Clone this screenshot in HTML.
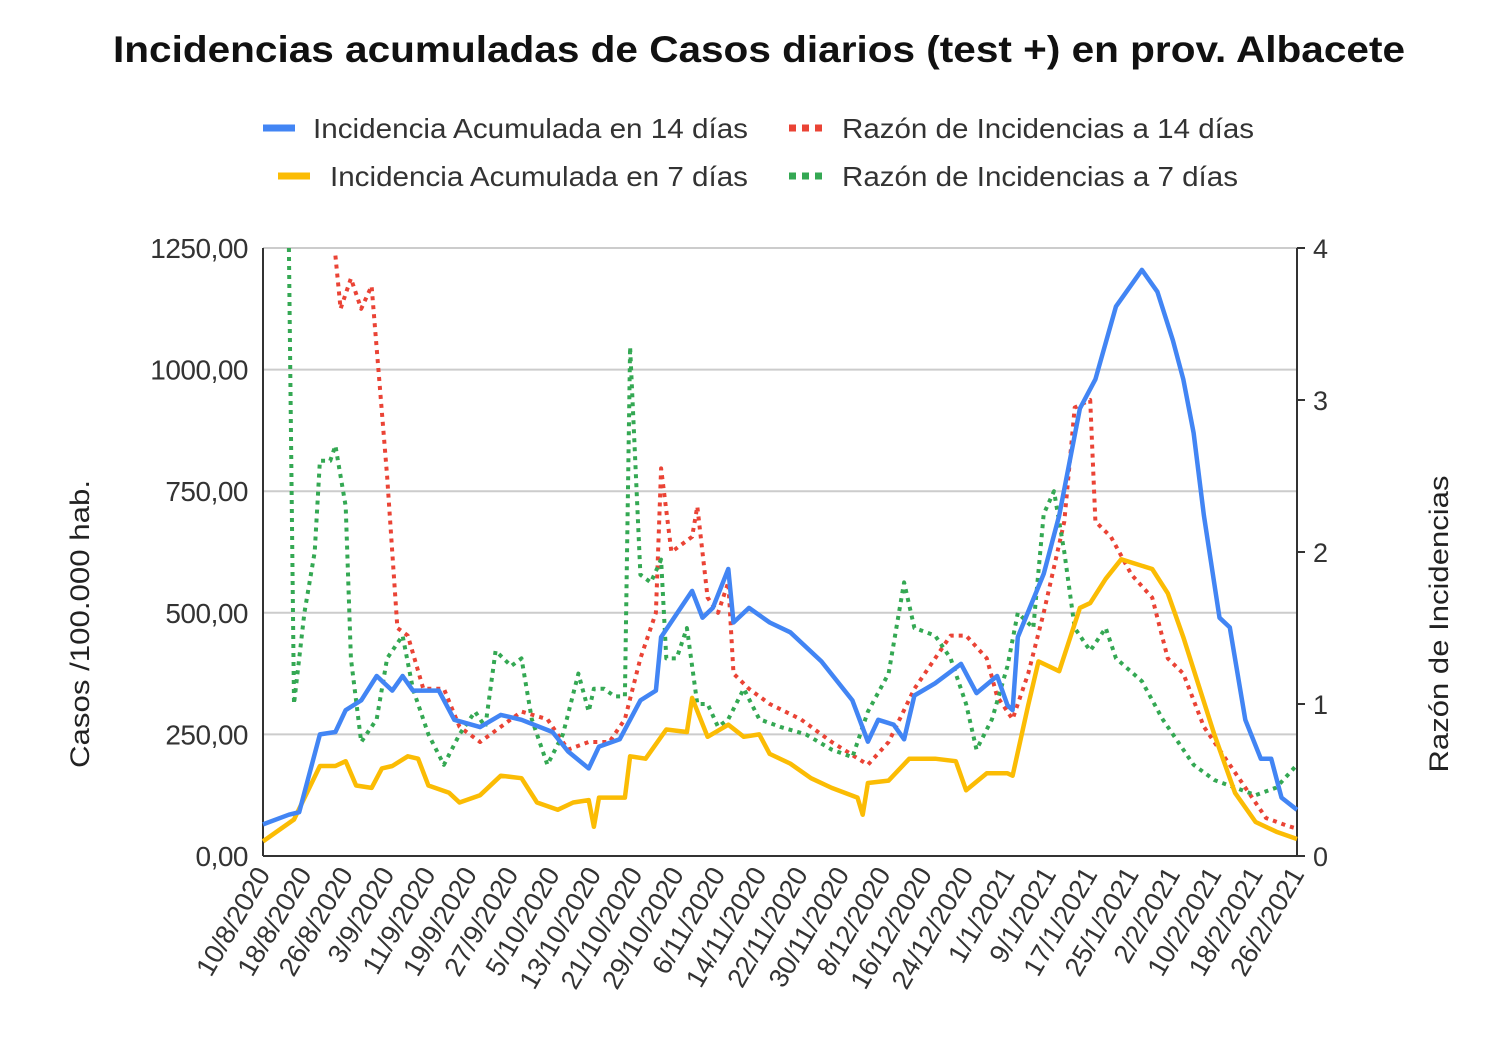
<!DOCTYPE html>
<html><head><meta charset="utf-8">
<style>
html,body{margin:0;padding:0;background:#fff;}
body{width:1500px;height:1046px;overflow:hidden;font-family:"Liberation Sans",Arial,sans-serif;}
</style></head>
<body>
<svg id="chart" width="1500" height="1046" xmlns="http://www.w3.org/2000/svg" font-family="Liberation Sans, Arial, sans-serif">
<text x="113" y="62" textLength="1292" lengthAdjust="spacingAndGlyphs" font-size="37" font-weight="bold" fill="#111">Incidencias acumuladas de Casos diarios (test +) en prov. Albacete</text>
<g font-size="28" fill="#333">
<g><line x1="263" y1="128" x2="295" y2="128" stroke="#4285f4" stroke-width="7"/><text x="313" y="138" textLength="435" lengthAdjust="spacingAndGlyphs">Incidencia Acumulada en 14 días</text></g>
<g><line x1="278" y1="176" x2="310" y2="176" stroke="#fbbc04" stroke-width="7"/><text x="330" y="186" textLength="418" lengthAdjust="spacingAndGlyphs">Incidencia Acumulada en 7 días</text></g>
<g><line x1="789" y1="128" x2="822" y2="128" stroke="#ea4335" stroke-width="7" stroke-dasharray="7,6"/><text x="842" y="138" textLength="412" lengthAdjust="spacingAndGlyphs">Razón de Incidencias a 14 días</text></g>
<g><line x1="789" y1="176" x2="822" y2="176" stroke="#34a853" stroke-width="7" stroke-dasharray="7,6"/><text x="842" y="186" textLength="396" lengthAdjust="spacingAndGlyphs">Razón de Incidencias a 7 días</text></g>
</g>
<g id="grid"></g>
<g id="axes"></g>
<g id="series"></g>
<text transform="translate(89,624) rotate(-90)" text-anchor="middle" font-size="27" textLength="288" lengthAdjust="spacingAndGlyphs" fill="#222">Casos /100.000 hab.</text>
<text transform="translate(1448,624) rotate(-90)" text-anchor="middle" font-size="27" textLength="297" lengthAdjust="spacingAndGlyphs" fill="#222">Razón de Incidencias</text>
</svg>
<script>
const xTickLabels=["10/8/2020","18/8/2020","26/8/2020","3/9/2020","11/9/2020","19/9/2020","27/9/2020","5/10/2020","13/10/2020","21/10/2020","29/10/2020","6/11/2020","14/11/2020","22/11/2020","30/11/2020","8/12/2020","16/12/2020","24/12/2020","1/1/2021","9/1/2021","17/1/2021","25/1/2021","2/2/2021","10/2/2021","18/2/2021","26/2/2021"];
const leftTicks=[0,250,500,750,1000,1250];
const leftTickLabels=["0,00","250,00","500,00","750,00","1000,00","1250,00"];
const rightTicks=[0,1,2,3,4];
const ia14Days=[0,5,7,11,14,16,19,22,25,27,29,34,37,42,46,50,56,59,63,65,69,73,76,77,83,85,87,90,91,94,98,102,108,114,117,119,122,124,126,130,135,138,142,144,145,146,151,154,158,161,165,170,173,176,178,180,182,185,187,190,193,195,197,200];
const ia14Vals=[65,85,90,250,255,300,320,370,340,370,340,340,280,265,290,280,255,215,180,225,240,320,340,450,545,490,510,590,480,510,480,460,400,320,235,280,270,240,330,355,395,335,370,310,300,450,580,700,920,980,1130,1205,1160,1060,980,870,700,490,470,280,200,200,120,95];
const ia7Days=[0,6,11,14,16,18,21,23,25,28,30,32,36,38,42,46,50,53,57,60,63,64,65,70,71,74,78,82,83,86,90,93,96,98,102,106,110,115,116,117,121,125,130,134,136,140,144,145,148,150,154,158,160,163,166,172,175,178,181,184,188,192,196,200];
const ia7Vals=[30,75,185,185,195,145,140,180,185,205,200,145,130,110,125,165,160,110,95,110,115,60,120,120,205,200,260,255,325,245,270,245,250,210,190,160,140,120,85,150,155,200,200,195,135,170,170,165,310,400,380,510,520,570,610,590,540,450,350,250,130,70,50,35];
const ri14Days=[14,15,17,19,21,24,26,28,31,35,38,42,46,50,55,59,63,67,70,73,76,77,79,83,84,86,88,90,91,94,98,104,110,117,121,126,130,133,136,140,142,145,148,151,155,157,160,161,164,168,172,175,178,182,186,190,194,198,200];
const ri14Vals=[3.95,3.6,3.8,3.6,3.75,2.5,1.5,1.45,1.1,1.1,0.85,0.75,0.85,0.95,0.9,0.7,0.75,0.75,0.9,1.3,1.6,2.55,2.0,2.1,2.3,1.7,1.6,1.8,1.2,1.1,1.0,0.9,0.75,0.6,0.75,1.1,1.3,1.45,1.45,1.3,1.05,0.9,1.2,1.6,2.2,2.95,3.0,2.2,2.1,1.85,1.7,1.3,1.2,0.85,0.65,0.45,0.25,0.2,0.18];
const ri7Days=[5,6,8,10,11,13,14,16,17,19,22,24,27,29,32,35,38,41,43,45,48,50,52,55,58,61,63,64,66,68,70,71,73,75,77,78,80,82,84,86,88,90,93,96,100,105,110,114,117,121,124,126,130,133,136,138,141,144,146,149,151,153,155,157,160,163,165,170,174,180,184,188,192,196,200];
const ri7Vals=[4.0,1.0,1.6,2.0,2.6,2.6,2.7,2.3,1.3,0.75,0.9,1.3,1.45,1.1,0.8,0.6,0.8,0.95,0.85,1.35,1.25,1.3,0.9,0.6,0.8,1.2,0.95,1.1,1.1,1.05,1.05,3.35,1.85,1.8,1.95,1.3,1.3,1.5,1.0,1.0,0.85,0.9,1.1,0.9,0.85,0.8,0.7,0.65,0.95,1.2,1.8,1.5,1.45,1.3,1.0,0.7,0.9,1.25,1.6,1.5,2.25,2.4,2.0,1.5,1.35,1.5,1.3,1.15,0.9,0.6,0.5,0.45,0.4,0.45,0.6];

const NS="http://www.w3.org/2000/svg";
const X0=263,X1=1297,Y0=856,Y1=248,DAYS=200;
const xS=d=>X0+(X1-X0)*d/DAYS;
const yL=v=>Y0-(Y0-Y1)*v/1250;
const yR=v=>Y0-(Y0-Y1)*v/4;
function mk(tag,attrs,parent){const e=document.createElementNS(NS,tag);for(const k in attrs)e.setAttribute(k,attrs[k]);parent.appendChild(e);return e;}
const grid=document.getElementById('grid'),axes=document.getElementById('axes'),series=document.getElementById('series');
leftTicks.forEach((v,i)=>{
  if(v>0){const g=mk('line',{x1:X0,x2:X1,y1:yL(v),y2:yL(v),stroke:'#ccc','stroke-width':2},grid);
  
  }
  const t=mk('text',{x:248,y:yL(v)+10,'text-anchor':'end','font-size':28,'letter-spacing':'-0.5',fill:'#333'},axes);
  t.textContent=leftTickLabels[i];
  
  
});
rightTicks.forEach(v=>{
  mk('line',{x1:X1,x2:X1+8,y1:yR(v),y2:yR(v),stroke:'#333','stroke-width':2},axes);
  const t=mk('text',{x:1313,y:yR(v)+10,'font-size':27,fill:'#333'},axes);
  t.textContent=String(v);
  
  
});
mk('line',{x1:X0,x2:X0,y1:Y1,y2:Y0,stroke:'#333','stroke-width':2},axes);
mk('line',{x1:X1,x2:X1,y1:Y1,y2:Y0,stroke:'#333','stroke-width':2},axes);
mk('line',{x1:X0,x2:X1,y1:Y0,y2:Y0,stroke:'#333','stroke-width':2},axes);
xTickLabels.forEach((lab,i)=>{
  const x=xS(i*8);
  const t=mk('text',{transform:`translate(${x+8},${Y0+18}) rotate(-60)`,'text-anchor':'end','font-size':27,fill:'#333'},axes);
  t.textContent=lab;
  
  
});
function line(days,vals,ys,color,dash,name){
  const d=days.map((dd,i)=>(i?'L':'M')+xS(dd).toFixed(1)+','+ys(vals[i]).toFixed(1)).join(' ');
  const p=mk('path',{d:d,fill:'none',stroke:color,'stroke-width':dash?4:4.5,'stroke-linejoin':'round'},series);
  if(dash)p.setAttribute('stroke-dasharray','4,5');
  
  
}
line(ri14Days,ri14Vals,yR,'#ea4335',true,'series-razon-14');
line(ri7Days,ri7Vals,yR,'#34a853',true,'series-razon-7');
line(ia7Days,ia7Vals,yL,'#fbbc04',false,'series-ia-7');
line(ia14Days,ia14Vals,yL,'#4285f4',false,'series-ia-14');
</script>
</body></html>
